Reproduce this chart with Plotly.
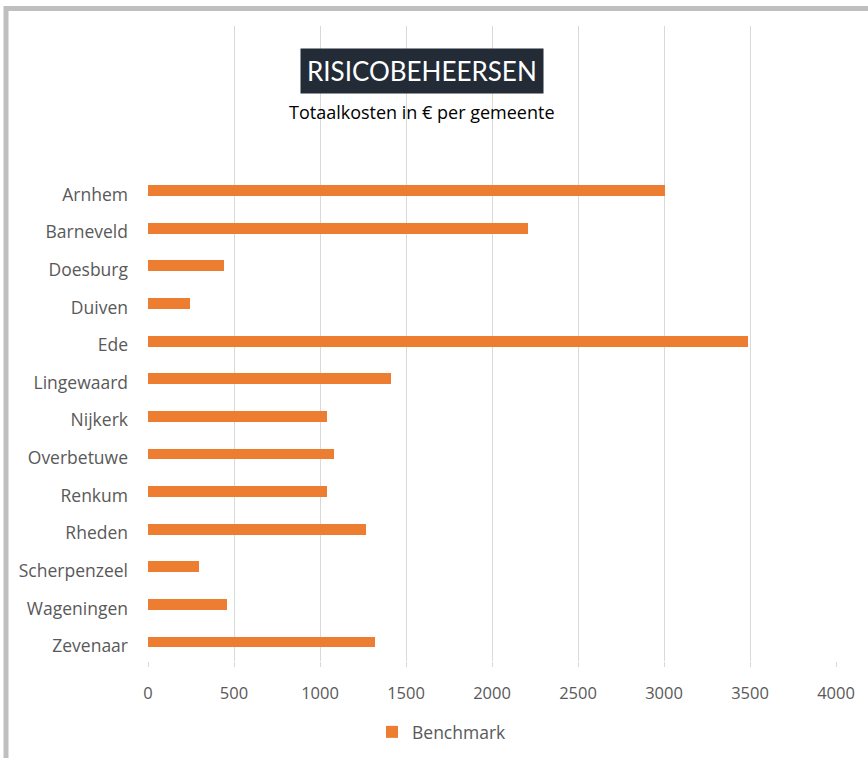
import plotly.graph_objects as go

categories = ["Arnhem", "Barneveld", "Doesburg", "Duiven", "Ede", "Lingewaard",
              "Nijkerk", "Overbetuwe", "Renkum", "Rheden", "Scherpenzeel",
              "Wageningen", "Zevenaar"]
values = [3005, 2210, 440, 246, 3487, 1411, 1041, 1080, 1041, 1265, 298, 459, 1318]
x_ticks = [0, 500, 1000, 1500, 2000, 2500, 3000, 3500, 4000]
series_name = "Benchmark"
title_text = "RISICOBEHEERSEN"
subtitle_text = "Totaalkosten in € per gemeente"

W, H = 868, 758
FONT = "Open Sans"
TFONT = "Lato"
positions = list(range(len(categories)))

fig = go.Figure()
fig.add_trace(go.Bar(
    x=values, y=positions, orientation="h", name=series_name,
    marker=dict(color="#ED7D31", line=dict(width=0)), width=0.29,
    showlegend=True,
))

def px_x(p):
    return p / W

def px_y(p):
    return (H - p) / H

fig.update_layout(
    width=W, height=H,
    margin=dict(l=0, r=0, t=0, b=0, autoexpand=False),
    paper_bgcolor="white", plot_bgcolor="white",
    font=dict(family=FONT, color="#595959", size=16),
    xaxis=dict(
        domain=[px_x(148), px_x(836)], range=[0, 4000],
        tickvals=x_ticks, ticktext=[str(v) for v in x_ticks],
        showgrid=True, gridcolor="#D9D9D9", gridwidth=1.3,
        zeroline=False, showline=False,
        ticks="outside", ticklen=5, tickcolor="#D9D9D9", tickwidth=1.3,
        ticklabelstandoff=12, automargin=False,
        tickfont=dict(size=16.5, color="#595959", family=FONT),
        anchor="y",
    ),
    yaxis=dict(
        domain=[px_y(661), px_y(26)], range=[12.505, -4.38],
        tickvals=positions, ticktext=categories,
        showgrid=False, zeroline=False, showline=False,
        ticks="", ticklabelstandoff=19, ticklabelshift=-4, automargin=False,
        tickfont=dict(size=17.5, color="#595959", family=FONT),
    ),
    legend=dict(
        orientation="h", x=px_x(372), xanchor="left",
        y=px_y(732), yanchor="middle",
        font=dict(size=17.5, color="#595959", family=FONT),
        bgcolor="rgba(0,0,0,0)",
    ),
    bargap=0,
)

fig.add_annotation(
    text=title_text, x=px_x(422), y=px_y(71), xref="paper", yref="paper",
    xanchor="center", yanchor="middle", showarrow=False,
    font=dict(size=26, color="white", family=TFONT),
    bgcolor="#222B36", borderpad=6,
)
fig.add_annotation(
    text=subtitle_text, x=px_x(422), y=px_y(112), xref="paper", yref="paper",
    xanchor="center", yanchor="middle", showarrow=False,
    font=dict(size=18, color="black", family=FONT),
)

border = "#BFBFBF"
fig.add_shape(type="line", xref="paper", yref="paper",
              x0=px_x(4), x1=1, y0=px_y(8.5), y1=px_y(8.5),
              line=dict(color=border, width=5))
fig.add_shape(type="line", xref="paper", yref="paper",
              x0=px_x(6), x1=px_x(6), y0=px_y(6), y1=0,
              line=dict(color=border, width=5))

fig.write_html("out.html")
